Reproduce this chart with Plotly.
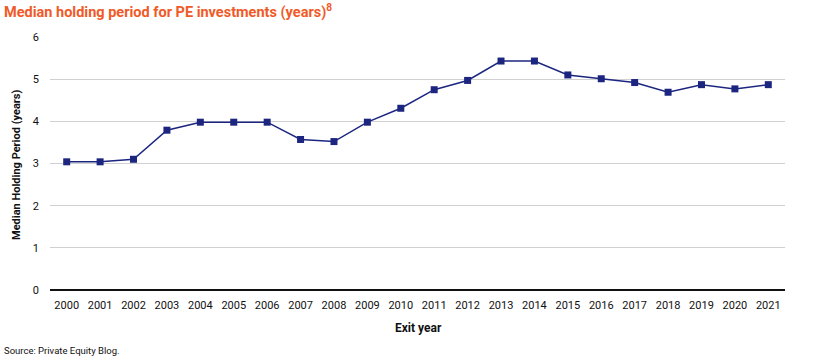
import plotly.graph_objects as go

years = [str(y) for y in range(2000, 2022)]
holding = [3.04, 3.04, 3.1, 3.79, 3.98, 3.98, 3.98, 3.57, 3.52, 3.98, 4.31,
           4.75, 4.97, 5.43, 5.43, 5.1, 5.01, 4.92, 4.69, 4.87, 4.77, 4.87]
y_ticks = [0, 1, 2, 3, 4, 5, 6]

navy = "#1c2680"
L, R, T, B = 50, 45, 37, 70
PW, PH = 830 - L - R, 360 - T - B

def px(x):
    return (x - L) / PW

def py(y):
    return (360 - B - y) / PH

fig = go.Figure()
fig.add_trace(go.Scatter(
    x=years, y=holding, mode="lines+markers",
    line=dict(color=navy, width=1.5),
    marker=dict(symbol="square", size=7, color=navy),
    showlegend=False,
))

fig.update_layout(
    width=830, height=360,
    margin=dict(l=L, r=R, t=T, b=B),
    paper_bgcolor="white", plot_bgcolor="white",
    font=dict(family="Roboto", size=11, color="#111"),
    annotations=[
        dict(text="<b>Median holding period for PE investments (years)</b><sup><b>8</b></sup>",
             x=px(2), y=py(12), xref="paper", yref="paper", xanchor="left", yanchor="middle",
             showarrow=False,
             font=dict(family="Roboto", size=14.5, color="#f05a28")),
        dict(text="Source: Private Equity Blog.", x=px(2), y=py(350), xref="paper", yref="paper",
             xanchor="left", yanchor="middle", showarrow=False,
             font=dict(family="Roboto", size=9.5, color="#111")),
        dict(text="<b>Exit year</b>", x=px(418), y=py(328), xref="paper", yref="paper",
             xanchor="center", yanchor="middle", showarrow=False,
             font=dict(family="Roboto", size=12, color="#111")),
        dict(text="<b>Median Holding Period (years)</b>", x=px(16), y=py(165), xref="paper", yref="paper",
             xanchor="center", yanchor="middle", showarrow=False, textangle=-90,
             font=dict(family="Roboto", size=11, color="#111")),
    ],
)

fig.update_xaxes(
    type="category", range=[-0.5, len(years) - 0.5],
    showgrid=False, showline=False, ticks="", automargin=False,
    ticklabelstandoff=7,
    tickfont=dict(size=11, color="#111"),
)
fig.update_yaxes(
    range=[0, 6], tickvals=y_ticks, showgrid=True, gridcolor="#d0d0d0", gridwidth=1,
    zeroline=True, zerolinecolor="#111", zerolinewidth=2, showline=False, ticks="",
    ticklabelstandoff=10, automargin=False,
    tickfont=dict(size=11, color="#111"),
)

fig.write_html("out.html", config={"displayModeBar": False},
               post_script="document.body.style.margin='0px';")
